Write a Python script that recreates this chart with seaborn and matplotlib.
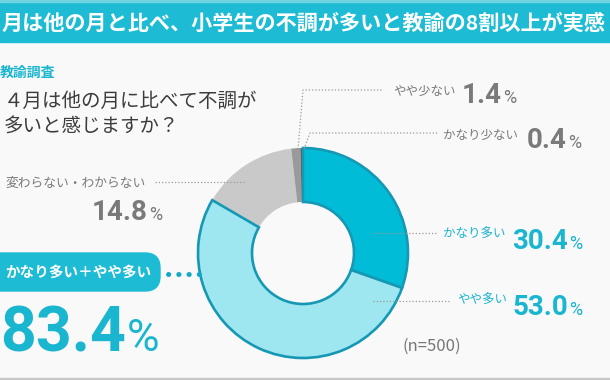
import matplotlib
matplotlib.use("Agg")
import matplotlib.pyplot as plt
from matplotlib.patches import Rectangle, FancyBboxPatch
import seaborn as sns

# data
labels = ["かなり多い", "やや多い", "変わらない・わからない", "やや少ない", "かなり少ない"]
values = [30.4, 53.0, 14.8, 1.4, 0.4]
colors = ["#00BCD6", "#9EE6F0", "#C9C9C9", "#9A9A9A", "#5C5C5C"]
combined_label = "かなり多い＋やや多い"
combined_value = 83.4
title = "月は他の月と比べ、小学生の不調が多いと教諭の8割以上が実感"
survey = "教諭調査"
question = ["４月は他の月に比べて不調が", "多いと感じますか？"]
sample = "(n=500)"

CYAN = "#1AB5CF"
GRAY = "#7A7A7A"
BG = "#F9F9F9"
JP = ["Noto Sans CJK JP", "DejaVu Sans"]
NUM = ["Roboto", "Noto Sans CJK JP", "DejaVu Sans"]

sns.set_theme(style="white")
plt.rcParams["font.family"] = JP

W, H = 610, 380
fig = plt.figure(figsize=(6.1, 3.8), dpi=100, facecolor=BG)
ax = fig.add_axes([0, 0, 1, 1])
ax.set_facecolor(BG)


def Y(y):
    return H - y


# donut
wedges, _ = ax.pie(values, colors=colors, startangle=90, counterclock=False,
                   center=(303, Y(253)), radius=105,
                   wedgeprops=dict(width=54, linewidth=0))
for w in wedges[:2]:
    w.set_edgecolor("#1698B4")
    w.set_linewidth(1.9)
    w.set_zorder(3)
ax.set_xlim(0, W)
ax.set_ylim(0, H)
ax.set_aspect("equal")
ax.axis("off")

# header and footer bands
ax.add_patch(Rectangle((0, Y(42)), W, 42, color="#1DBCD4", zorder=1))
ax.add_patch(Rectangle((0, Y(2)), W, 2, color="#6FD3E2", zorder=1))
ax.add_patch(Rectangle((0, 0), W, 2.5, color="#C8C8C8", zorder=1))
ax.text(2, Y(23), title, color="white", fontsize=15.2, fontweight="bold",
        va="center", ha="left", zorder=2)

ax.text(0, Y(73), survey, color=CYAN, fontsize=10, fontweight="bold", va="center")
ax.text(4, Y(101), question[0], color="#3C3C3C", fontsize=14, va="center")
ax.text(4, Y(127), question[1], color="#3C3C3C", fontsize=14, va="center")

renderer = fig.canvas.get_renderer()


def pct(x, base, num, color, size, psize):
    t = ax.text(x, Y(base), num, color=color, fontsize=size, fontweight="bold",
                family=NUM, va="baseline", ha="left")
    bb = t.get_window_extent(renderer)
    x1 = ax.transData.inverted().transform((bb.x1, bb.y0))[0]
    ax.text(x1 + 1, Y(base), "%", color=color, fontsize=psize, family=NUM,
            va="baseline", ha="left")


def leader(xs, ys, color="#9A9A9A"):
    ax.plot(xs, [Y(v) for v in ys], color=color, linewidth=0.9,
            linestyle=(0, (1, 1.6)), zorder=4)


# labels for each slice
leader([298, 303, 383], [149, 90, 90])
ax.text(393, Y(92), labels[3], color=GRAY, fontsize=9, va="center")
pct(462, 103, f"{values[3]:.1f}", GRAY, 20, 13)

leader([304, 310, 438], [149, 133, 133])
ax.text(443, Y(136), labels[4], color=GRAY, fontsize=9, va="center")
pct(527, 148, f"{values[4]:.1f}", GRAY, 20, 13)

leader([155, 245], [182, 182])
ax.text(5, Y(183), labels[2], color=GRAY, fontsize=9.2, va="center")
pct(92, 220, f"{values[2]:.1f}", GRAY, 20, 13)

leader([373, 437], [233, 233])
ax.text(443, Y(234), labels[0], color=CYAN, fontsize=9, va="center")
pct(512, 249, f"{values[0]:.1f}", CYAN, 20, 13)

leader([373, 450], [301, 301])
ax.text(457, Y(300), labels[1], color=CYAN, fontsize=9, va="center")
pct(512, 315, f"{values[1]:.1f}", CYAN, 20, 13)

# combined callout
ax.add_patch(FancyBboxPatch((-20, Y(291)), 180, 38,
                            boxstyle="round,pad=0,rounding_size=15",
                            color="#1DBCD4", zorder=2))
ax.text(5, Y(272), combined_label, color="white", fontsize=10.5,
        fontweight="bold", va="center", zorder=3)
ax.plot([168, 200], [Y(274), Y(274)], color="#17A9C3", linewidth=3.6,
        linestyle=(0, (0.05, 2.0)), dash_capstyle="round", zorder=4)
pct(0, 351, f"{combined_value:.1f}", CYAN, 45, 32)

ax.text(403, Y(346), sample, color="#777777", fontsize=12, va="center")

fig.savefig("out.png", dpi=100, facecolor=BG)
